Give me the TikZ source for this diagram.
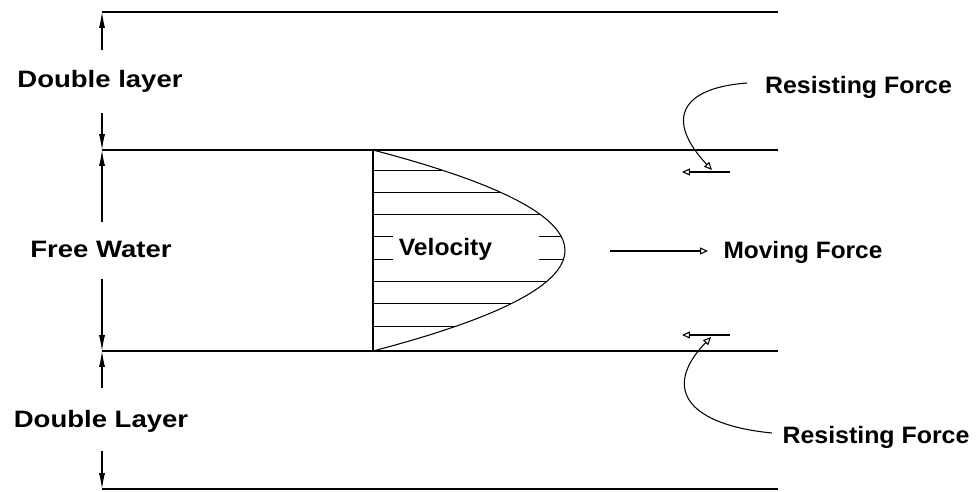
\documentclass[tikz,border=0pt]{standalone}
\usepackage{fontspec}
\setmainfont{Liberation Sans}
\usetikzlibrary{arrows.meta}

\begin{document}
\begin{tikzpicture}[x=0.02cm, y=-0.02cm,
  wall/.style={line width=0.6pt},
  hatch/.style={line width=0.5pt},
  dim/.style={line width=0.6pt, -{Latex[length=9pt, width=3.4pt]}},
  force/.style={line width=0.6pt, -{Triangle[open, length=4.5pt, width=4pt]}},
  lbl/.style={font=\fontsize{13.5pt}{16pt}\selectfont\bfseries,
              inner sep=0pt, anchor=base}
]
\useasboundingbox (0,0) rectangle (979,491);

\coordinate (tl) at (102,12);  \coordinate (tr) at (778,12);
\coordinate (ul) at (102,150); \coordinate (ur) at (778,150);
\coordinate (ll) at (102,351); \coordinate (lr) at (778,351);
\coordinate (bl) at (102,489); \coordinate (br) at (778,489);

\draw[wall] (tl) -- (tr);
\draw[wall] (ul) -- (ur);
\draw[wall] (ll) -- (lr);
\draw[wall] (bl) -- (br);

\node[lbl] (dl1) at (100,87)  {\scalebox{1.16}[1]{Double layer}};
\node[lbl] (fw)  at (101,257) {\scalebox{1.16}[1]{Free Water}};
\node[lbl] (dl2) at (101,427) {\scalebox{1.16}[1]{Double Layer}};

\coordinate (d1) at (102,50);  \coordinate (d2) at (102,113);
\coordinate (d3) at (102,222); \coordinate (d4) at (102,279);
\coordinate (d5) at (102,388); \coordinate (d6) at (102,451);

\draw[dim] (d1) -- (tl);
\draw[dim] (d2) -- (ul);
\draw[dim] (d3) -- (ul);
\draw[dim] (d4) -- (ll);
\draw[dim] (d5) -- (ll);
\draw[dim] (d6) -- (bl);

\coordinate (vtop) at (373,150);
\coordinate (vbot) at (373,351);
\draw[wall] (vtop) -- (vbot);
\draw[wall] plot[variable=\t, domain=150:351, samples=41]
  ({373+192*(1-((\t-250.5)/100.5)*((\t-250.5)/100.5))}, \t);

\foreach \k in {1,2,3,6,7,8}{
  \pgfmathsetmacro\hy{147.7+22.3*\k}
  \pgfmathsetmacro\hx{373+192*(1-((\hy-250.5)/100.5)*((\hy-250.5)/100.5))}
  \draw[hatch] (373,\hy) -- (\hx,\hy);
}
\foreach \k in {4,5}{
  \pgfmathsetmacro\hy{147.7+22.3*\k}
  \pgfmathsetmacro\hx{373+192*(1-((\hy-250.5)/100.5)*((\hy-250.5)/100.5))}
  \draw[hatch] (373,\hy) -- (393,\hy);
  \draw[hatch] (539,\hy) -- (\hx,\hy);
}

\node[lbl] (vel) at (445.5,255) {\scalebox{1.04}[1]{Velocity}};

\coordinate (ms) at (610,251); \coordinate (me) at (708,251);
\draw[force] (ms) -- (me);
\node[lbl] (mf) at (803,258) {\scalebox{1.03}[1]{Moving Force}};

\node[lbl] (rf1) at (858.5,93) {\scalebox{1.05}[1]{Resisting Force}};
\node[lbl] (rf2) at (876,443)  {\scalebox{1.05}[1]{Resisting Force}};

\coordinate (a1s) at (730,172); \coordinate (a1e) at (682,172);
\coordinate (a2s) at (730,335); \coordinate (a2e) at (682,335);
\draw[force] (a1s) -- (a1e);
\draw[force] (a2s) -- (a2e);

\coordinate (c1s) at (747,83);  \coordinate (c1e) at (712,170);
\coordinate (c2s) at (772,433); \coordinate (c2e) at (711,337);
\draw[force] (c1s) .. controls (680,88) and (665,120) .. (c1e);
\draw[force] (c2s) .. controls (690,425) and (660,390) .. (c2e);

\end{tikzpicture}
\end{document}
